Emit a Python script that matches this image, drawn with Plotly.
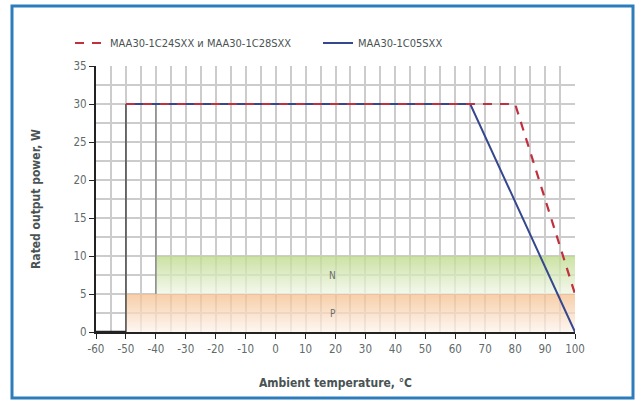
import plotly.graph_objects as go

# Data
temp_red = [-50, 80, 100]
power_red = [30, 30, 5]
temp_blue = [-50, 65, 100]
power_blue = [30, 30, 0]
name_red = "MAA30-1C24SXX и MAA30-1C28SXX"
name_blue = "MAA30-1C05SXX"
band_p_x = [-50, 100]
band_p_y = [0, 5]
band_n_x = [-40, 100]
band_n_y = [5, 10]
vline_dark = dict(x=-50, y=[0, 30])
vline_gray = dict(x=-40, y=[5, 30])
x_ticks = list(range(-60, 101, 10))
x_labels = [str(v) for v in x_ticks]
y_ticks = list(range(0, 36, 5))

FONT = "DejaVu Sans Condensed, Liberation Sans Narrow, Roboto, sans-serif"
TICKCOL = "#5f6b6b"
TITLECOL = "#4a5353"

L, T, W, H = 96, 66, 479, 266
FIG_W, FIG_H = 638, 403

fig = go.Figure()

def band(xr, yr, top, bottom):
    fig.add_trace(go.Scatter(
        x=[xr[0], xr[1], xr[1], xr[0], xr[0]],
        y=[yr[0], yr[0], yr[1], yr[1], yr[0]],
        mode="lines", line=dict(width=0), fill="toself",
        fillgradient=dict(type="vertical", start=yr[0], stop=yr[1],
                          colorscale=[[0, bottom], [1, top]]),
        showlegend=False, hoverinfo="skip"))

band(band_p_x, band_p_y, "rgba(244,190,140,0.75)", "rgba(253,244,236,0.75)")
band(band_n_x, band_n_y, "rgba(190,218,140,0.8)", "rgba(240,246,230,0.75)")

fig.add_trace(go.Scatter(x=[vline_dark["x"]] * 2, y=vline_dark["y"], mode="lines",
                         line=dict(color="#4a4a4a", width=1.5), showlegend=False, hoverinfo="skip"))
fig.add_trace(go.Scatter(x=[vline_gray["x"]] * 2, y=vline_gray["y"], mode="lines",
                         line=dict(color="#8a8a8a", width=1.5), showlegend=False, hoverinfo="skip"))
fig.add_trace(go.Scatter(x=[-60, -50], y=[0, 0], mode="lines",
                         line=dict(color="#222", width=2.5), showlegend=False, hoverinfo="skip"))

fig.add_trace(go.Scatter(x=temp_blue, y=power_blue, mode="lines", name=name_blue,
                         line=dict(color="#34478f", width=2)))
fig.add_trace(go.Scatter(x=temp_red, y=power_red, mode="lines", name=name_red,
                         line=dict(color="#c0303f", width=2.2, dash="9px,8px")))

fig.add_annotation(x=19, y=7.5, text="N", showarrow=False,
                   font=dict(family=FONT, size=10, color="#6b6b6b"))
fig.add_annotation(x=19, y=2.5, text="P", showarrow=False,
                   font=dict(family=FONT, size=10, color="#6b6b6b"))

# frame (page coords 12..633 x 6..398)
fig.add_shape(type="rect", xref="paper", yref="paper",
              x0=(12 - L) / W, x1=(633 - L) / W,
              y0=(T + H - 398) / H, y1=(T + H - 6) / H,
              line=dict(color="#2d7dbd", width=3), layer="above")

fig.update_layout(
    width=FIG_W, height=FIG_H,
    margin=dict(l=L, r=FIG_W - L - W, t=T, b=FIG_H - T - H, autoexpand=False),
    paper_bgcolor="white", plot_bgcolor="white",
    font=dict(family=FONT, size=11.5, color=TICKCOL),
    legend=dict(orientation="h", x=(70 - L) / W, xanchor="left", y=1 + (T - 43) / H, yanchor="middle",
                traceorder="reversed", font=dict(family=FONT, size=11, color=TITLECOL),
                itemwidth=30, entrywidth=203, entrywidthmode="pixels", bgcolor="rgba(0,0,0,0)"),
    xaxis=dict(range=[-60, 100], tickvals=x_ticks, ticktext=x_labels, showgrid=True, gridcolor="#cccccc",
               gridwidth=1.5, minor=dict(dtick=5, tick0=0, showgrid=True, gridcolor="#cccccc", gridwidth=1.5),
               zeroline=False, showline=True, linecolor="#222", linewidth=2,
               ticks="outside", ticklen=5, tickcolor="#222",
               tickfont=dict(family=FONT, size=11.5, color=TICKCOL),
               title=dict(text="<b>Ambient temperature, °C</b>", standoff=24,
                          font=dict(family=FONT, size=12, color=TITLECOL))),
    yaxis=dict(range=[0, 35], tickvals=y_ticks, showgrid=True, gridcolor="#cccccc",
               gridwidth=1.5, minor=dict(dtick=2.5, tick0=0, showgrid=True, gridcolor="#cccccc", gridwidth=1.5),
               zeroline=False, showline=True, linecolor="#222", linewidth=2,
               ticks="outside", ticklen=5, tickcolor="#222",
               tickfont=dict(family=FONT, size=11.5, color=TICKCOL),
               title=dict(text="<b>Rated output power, W</b>", standoff=30,
                          font=dict(family=FONT, size=12, color=TITLECOL))),
)

fig.write_html("out.html", config={"displayModeBar": False},
               post_script="document.body.style.margin='0';document.body.style.overflow='hidden';")
